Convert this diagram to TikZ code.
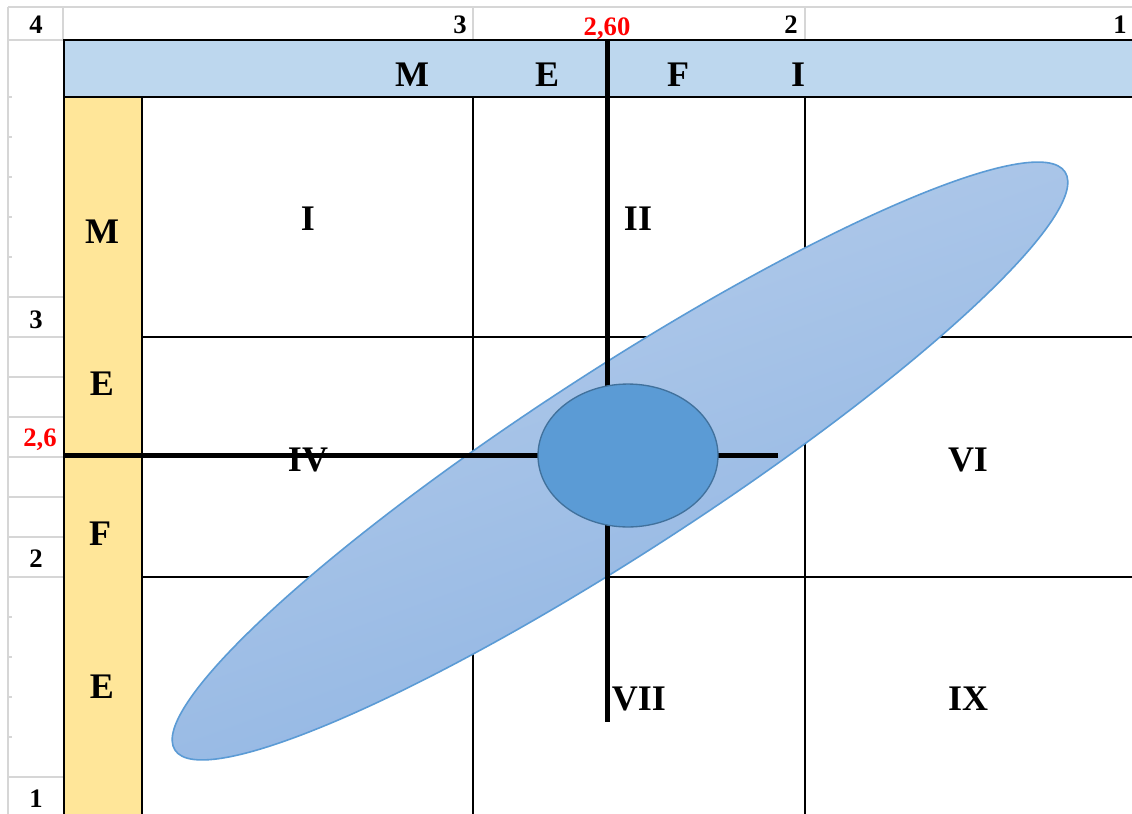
\documentclass[tikz,border=0pt]{standalone}
\usepackage{fontspec}
\setmainfont{Liberation Serif}
\usetikzlibrary{positioning}
\definecolor{bandblue}{HTML}{BDD7EE}
\definecolor{coltan}{HTML}{FFE699}
\definecolor{cellgray}{HTML}{D6D6D6}
\definecolor{ovalA}{HTML}{B6CDEB}
\definecolor{ovalB}{HTML}{8DB3E2}
\definecolor{ovalline}{HTML}{5B9BD5}
\definecolor{coreblue}{HTML}{5B9BD5}
\definecolor{coreline}{HTML}{41719C}

\begin{document}
\begin{tikzpicture}[x=0.75pt,y=-0.75pt,
  lbl/.style={font=\fontsize{27}{30}\selectfont\bfseries,inner sep=0pt,anchor=base},
  num/.style={font=\fontsize{20}{22}\selectfont\bfseries,inner sep=0pt,anchor=base},
  rednum/.style={num,text=red},
  thin/.style={line width=1.5pt},
  axisline/.style={line width=3.75pt},
  xls/.style={cellgray,line width=1.5pt}]
\useasboundingbox[fill=white] (0,0) rectangle (1132,814);
% sheet grid
\draw[xls] (8,7) -- (1132,7);
\draw[xls] (8,7) -- (8,814);
\draw[xls] (8,40) -- (64,40);
\foreach \x in {63,473,805} \draw[xls] (\x,7) -- (\x,40);
\foreach \y in {297,337,377,417,457,497,537,577,777} \draw[xls] (8,\y) -- (64,\y);
\foreach \y in {97,137,177,217,257,617,657,697,737} \draw[xls] (8,\y) -- (12,\y);
% header band and side column
\draw[thin,fill=bandblue] (64,40) rectangle (1140,97);
\draw[thin,fill=coltan] (64,97) rectangle (142,820);
% cells
\foreach \x in {473,805} \draw[thin] (\x,97) -- (\x,814);
\foreach \y in {337,577} \draw[thin] (142,\y) -- (1132,\y);
% spread ellipse
\shade[draw=ovalline,line width=1.2pt,top color=ovalA,bottom color=ovalB,shading angle=20,
  rotate around={33:(620,461)}] (620,461) ellipse [x radius=398pt,y radius=68pt];
% mean lines
\draw[axisline] (607,40) -- (607,722);
\draw[axisline] (64,455) -- (778,455);
% mean point
\draw[fill=coreblue,draw=coreline,line width=1pt] (628,455.5) ellipse [x radius=67.5pt,y radius=53.6pt];
% column numbers
\node[num] (r4) at (36,33) {4};
\node[num,anchor=base east] (c3) at (467,33) {3};
\node[rednum] (c26) at (607,35) {2,60};
\node[num,anchor=base east] (c2) at (798,33) {2};
\node[num,anchor=base east] (c1) at (1127,33) {1};
% row numbers
\node[num] (r3) at (36,328) {3};
\node[rednum,anchor=base east] (r26) at (57,446) {2,6};
\node[num] (r2) at (36,567) {2};
\node[num] (r1) at (36,807) {1};
% band letters
\node[lbl] (hM) at (412,86) {M};
\node[lbl] (hE) at (547,86) {E};
\node[lbl] (hF) at (678,86) {F};
\node[lbl] (hI) at (798,86) {I};
\node[lbl] (vM) at (102,243) {M};
\node[lbl] (vE) at (102,395) {E};
\node[lbl] (vF) at (100,545) {F};
\node[lbl] (vE2) at (102,698) {E};
% sectors
\node[lbl] (sI) at (308,230) {I};
\node[lbl] (sII) at (638,230) {II};
\node[lbl] (sIV) at (308,471) {IV};
\node[lbl] (sVI) at (968,471) {VI};
\node[lbl] (sVII) at (639,710) {VII};
\node[lbl] (sIX) at (968,710) {IX};
\end{tikzpicture}
\end{document}
